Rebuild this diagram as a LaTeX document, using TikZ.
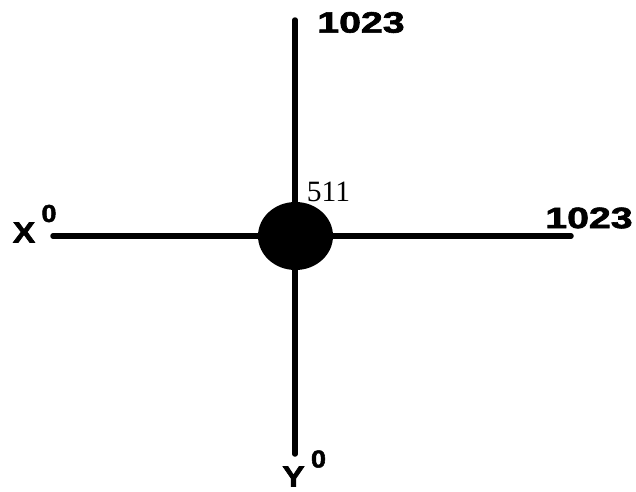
\documentclass[tikz,border=0pt]{standalone}
\usepackage{fontspec}
\setmainfont{Liberation Serif}
\newfontfamily\heavy{Liberation Sans}[UprightFont={* Bold},FakeBold=2]
\usetikzlibrary{shapes.geometric}
\tikzset{
  axis/.style={line width=5.5pt, line cap=round},
  lbl/.style={inner sep=0pt, outer sep=0pt, text=black},
  hubstyle/.style={ellipse, fill=black, inner sep=0pt, minimum width=75pt, minimum height=68pt}
}
\newcommand{\bignum}[2]{\scalebox{#2}[1]{\heavy\fontsize{29.5}{31}\selectfont #1}}
\newcommand{\letterlbl}[1]{\scalebox{1.15}[1]{\heavy\fontsize{29}{31}\selectfont #1}}
\newcommand{\zerolbl}{\scalebox{1.1}[1]{\heavy\fontsize{24.5}{26}\selectfont 0}}
\begin{document}
\begin{tikzpicture}[x=1pt,y=-1pt]
\useasboundingbox (0,0) rectangle (636,491);
\coordinate (top) at (295,20);
\coordinate (bottom) at (295,454);
\coordinate (left) at (53,236);
\coordinate (right) at (571,236);
\draw[axis] (top) -- (bottom);
\draw[axis] (left) -- (right);
\node[lbl] (hub) [hubstyle] at (295.5,236) {};
\node[lbl] (ytop) at (361,22.5) {\bignum{1023}{1.33}};
\node[lbl] (xright) at (589,218) {\bignum{1023}{1.33}};
\node[lbl] (mid) at (328.5,192) {\fontsize{29.5}{31}\selectfont 511};
\node[lbl] (xl) at (24,232.5) {\letterlbl{X}};
\node[lbl] (x0) at (49,213.5) {\zerolbl};
\node[lbl] (yl) at (293.5,476.5) {\letterlbl{Y}};
\node[lbl] (y0) at (318.5,459) {\zerolbl};
\end{tikzpicture}
\end{document}
